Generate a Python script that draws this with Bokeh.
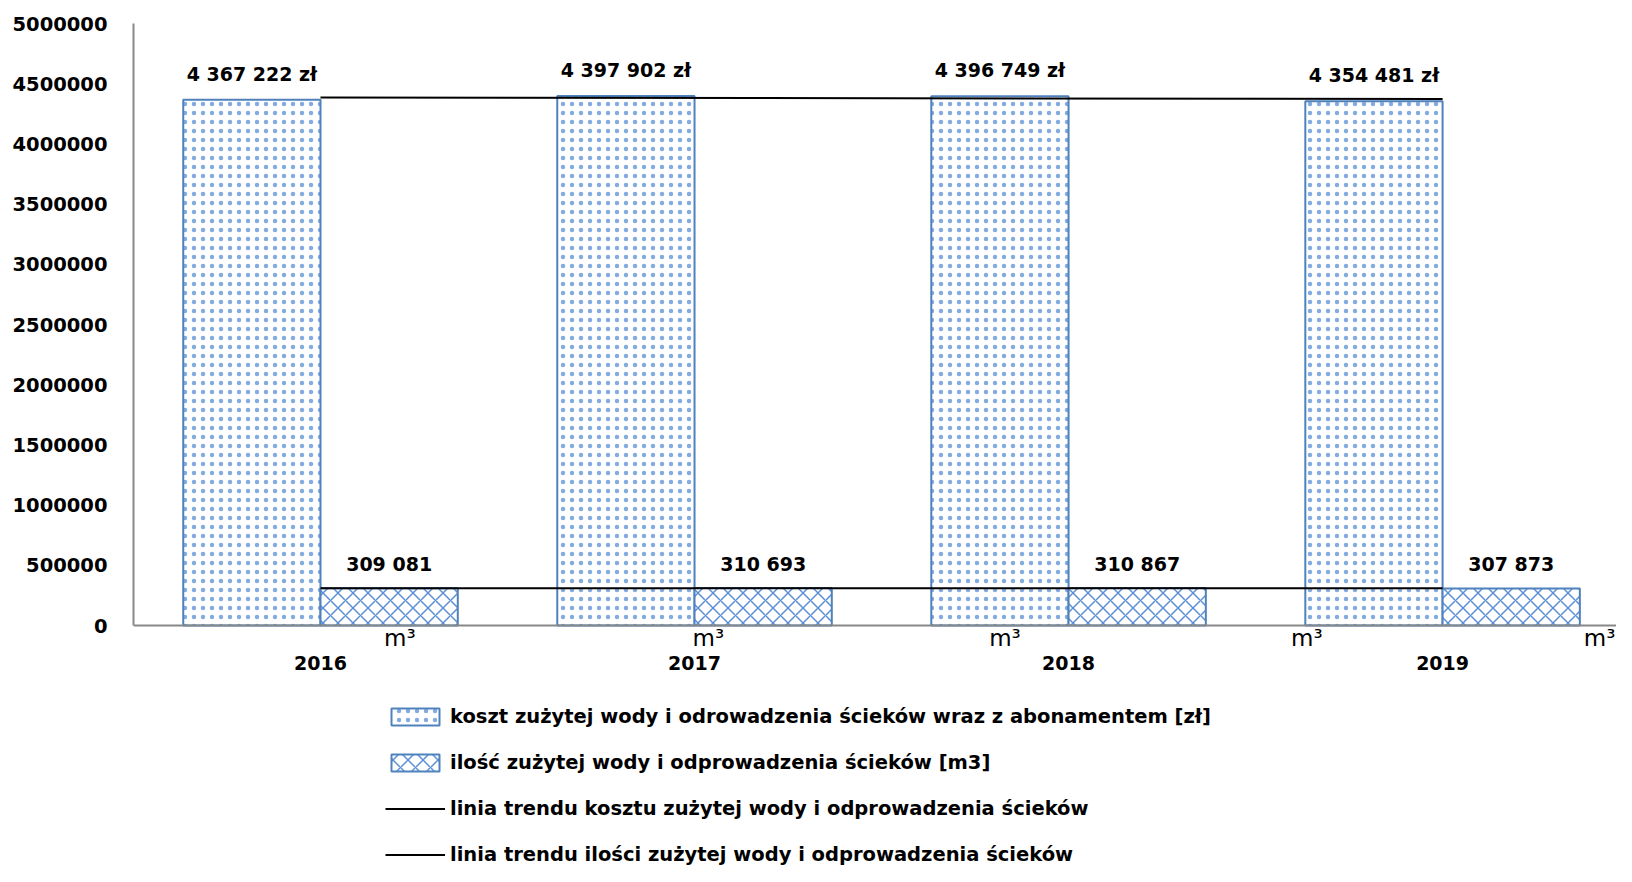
import numpy as np
from bokeh.plotting import figure
from bokeh.models import (Range1d, FixedTicker, BasicTickFormatter, Span, Legend,
                          LegendItem, ColumnDataSource)
from bokeh.core.properties import value
from bokeh.embed import file_html
from bokeh.resources import INLINE

# ---- data ----
years = ["2016", "2017", "2018", "2019"]
cost_pln = [4367222, 4397902, 4396749, 4354481]
volume_m3 = [309081, 310693, 310867, 307873]
y_ticks = [0, 500000, 1000000, 1500000, 2000000, 2500000,
           3000000, 3500000, 4000000, 4500000, 5000000]
legend_labels = [
    "koszt zużytej wody i odrowadzenia ścieków wraz z abonamentem [zł]",
    "ilość zużytej wody i odprowadzenia ścieków [m3]",
    "linia trendu kosztu zużytej wody i odprowadzenia ścieków",
    "linia trendu ilości zużytej wody i odprowadzenia ścieków",
]
unit_label = "m³"

# ---- styling / layout ----
FONT = value("DejaVu Sans")
BAR_W = 0.367
OUTLINE = "#4f81bd"
HATCH = "#5b8fd6"

def fmt(v):
    return f"{v:,}".replace(",", " ")

idx = np.arange(len(years))
centers = idx + 0.5

src = ColumnDataSource(dict(
    year=years,
    xc=centers - BAR_W / 2,
    xv=centers + BAR_W / 2,
    cost=cost_pln,
    vol=volume_m3,
    cost_lbl=[fmt(v) + " zł" for v in cost_pln],
    vol_lbl=[fmt(v) for v in volume_m3],
))

p = figure(width=1616, height=866,
           x_range=Range1d(0, 3.965), y_range=Range1d(-2001661, 5191030),
           x_axis_location=None,
           output_backend="svg", toolbar_location=None,
           min_border_left=133, min_border_right=0,
           min_border_top=0, min_border_bottom=0)
p.outline_line_color = None
p.xgrid.visible = False
p.ygrid.visible = False

ax = p.yaxis[0]
ax.ticker = FixedTicker(ticks=y_ticks)
ax.formatter = BasicTickFormatter(use_scientific=False)
ax.bounds = (0, 5000000)
ax.axis_line_color = "#888888"
ax.axis_line_width = 2
ax.major_tick_line_color = None
ax.minor_tick_line_color = None
ax.major_tick_in = 0
ax.major_tick_out = 0
ax.major_label_standoff = 26
ax.major_label_text_font = "DejaVu Sans"
ax.major_label_text_font_style = "bold"
ax.major_label_text_font_size = "19.5px"
ax.major_label_text_color = "#000000"

# baseline
p.add_layout(Span(location=0, dimension="width", line_color="#888888", line_width=2))

r_cost = p.vbar(x="xc", top="cost", bottom=0, width=BAR_W, source=src,
                fill_color="white", line_color=OUTLINE, line_width=2,
                hatch_pattern="dot", hatch_color=HATCH, hatch_scale=9,
                hatch_weight=1, hatch_alpha=0.75)
r_vol = p.vbar(x="xv", top="vol", bottom=0, width=BAR_W, source=src,
               fill_color="white", line_color=OUTLINE, line_width=2,
               hatch_pattern="diagonal_cross", hatch_color=HATCH, hatch_scale=15,
               hatch_weight=1.5)

# trend lines (least squares fit over categories)
kc = np.polyfit(idx, cost_pln, 1)
kv = np.polyfit(idx, volume_m3, 1)
tx = [centers[0], centers[-1]]
r_tc = p.line(tx, [np.polyval(kc, idx[0]), np.polyval(kc, idx[-1])],
              line_color="black", line_width=2)
r_tv = p.line(tx, [np.polyval(kv, idx[0]), np.polyval(kv, idx[-1])],
              line_color="black", line_width=2)

# data labels
p.text(x="xc", y="cost", text="cost_lbl", source=src, text_align="center",
       text_baseline="middle", y_offset=-26, text_font=FONT,
       text_font_style="bold", text_font_size="19px", text_color="black")
p.text(x="xv", y="vol", text="vol_lbl", source=src, text_align="center",
       text_baseline="middle", y_offset=-24, text_font=FONT,
       text_font_style="bold", text_font_size="19px", text_color="black")

# category labels
p.text(x=list(centers), y=[0] * len(years), text=years, text_align="center",
       text_baseline="middle", y_offset=37, text_font=FONT,
       text_font_style="bold", text_font_size="19px", text_color="black")

# stray unit labels under the axis
m3_x = [0.712, 1.537, 2.33, 3.137, 3.92]
p.text(x=m3_x, y=[0] * len(m3_x), text=[unit_label] * len(m3_x),
       text_align="center", text_baseline="alphabetic", y_offset=12,
       text_font=FONT, text_font_size="23px", text_color="black")

legend = Legend(items=[
    LegendItem(label=legend_labels[0], renderers=[r_cost]),
    LegendItem(label=legend_labels[1], renderers=[r_vol]),
    LegendItem(label=legend_labels[2], renderers=[r_tc]),
    LegendItem(label=legend_labels[3], renderers=[r_tv]),
], location=(252, 0), orientation="vertical")
legend.glyph_width = 60
legend.glyph_height = 21
legend.label_height = 21
legend.label_standoff = 5
legend.spacing = 23
legend.padding = 0
legend.margin = 0
legend.border_line_color = None
legend.background_fill_alpha = 0
legend.label_text_font = "DejaVu Sans"
legend.label_text_font_style = "bold"
legend.label_text_font_size = "19.5px"
legend.label_text_color = "black"
p.add_layout(legend)

open("out.html", "w").write(file_html(p, INLINE))
